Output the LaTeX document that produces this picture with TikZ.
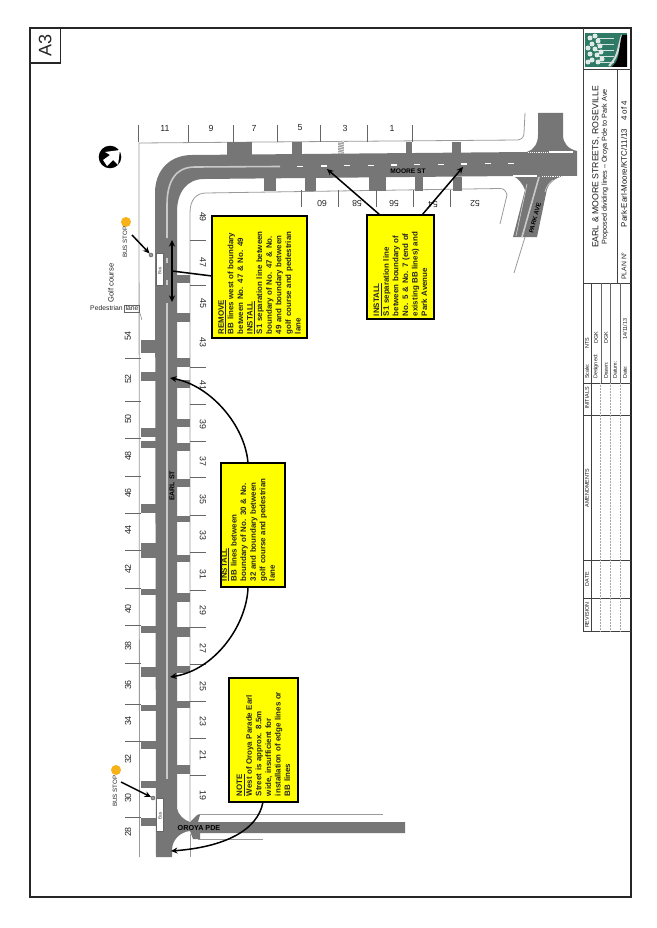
\documentclass[tikz,border=0pt]{standalone}
\usepackage{fontspec}
\setmainfont{Liberation Sans}
\usetikzlibrary{arrows.meta}
\definecolor{roadc}{HTML}{767676}
\definecolor{linec}{HTML}{9A9A9A}
\definecolor{markc}{HTML}{C9C9C9}
\definecolor{callout}{HTML}{FFFF00}
\definecolor{orangec}{HTML}{F7B21A}
\definecolor{logoc}{HTML}{2E7A66}
\tikzset{
  x=1pt,y=-1pt,
  frameline/.style={draw=black!85,line width=1.8pt},
  bound/.style={draw=linec,line width=0.8pt},
  tick/.style={draw=black!60,line width=0.7pt},
  road/.style={fill=roadc,draw=none},
  markline/.style={draw=markc,line width=1.6pt},
  dashmark/.style={draw=white,line width=1.2pt},
  numlabel/.style={font=\fontsize{8.8}{10}\selectfont,text=black!85,inner sep=0pt},
  ybox/.style={draw=black,line width=1.6pt,fill=callout,rotate=90,align=left,inner sep=0pt,
    font=\fontsize{7.9}{9.6}\selectfont\bfseries,text=black!85},
  pointer/.style={draw=black,line width=1.5pt,-{Stealth[length=6.5pt,width=6pt]}},
  plainpointer/.style={draw=black,line width=1.5pt},
  both/.style={draw=black,line width=1.5pt,{Stealth[length=6.5pt,width=6pt]}-{Stealth[length=6.5pt,width=6pt]}},
  roadname/.style={font=\fontsize{6.6}{8}\selectfont\bfseries,text=black,inner sep=0pt},
  note/.style={font=\fontsize{7.6}{9}\selectfont,text=black!85,inner sep=0pt},
  tb/.style={font=\fontsize{5.4}{6}\selectfont,text=black!90,inner sep=0pt,rotate=90},
  tbrule/.style={draw=black!75,line width=0.7pt},
  tbdot/.style={draw=black!35,line width=0.5pt,densely dotted},
}
\begin{document}
\begin{tikzpicture}
\useasboundingbox (0,0) rectangle (656,928);
\fill[white] (0,0) rectangle (656,928);

% boundaries
\draw[bound] (139.5,857) -- (139,143) -- (518,140) .. controls (522,139) and (524,137) .. (524,133) -- (525,113);
\draw[bound] (190,821) -- (190,213) .. controls (190,200) and (196,193) .. (206,193) -- (500,188.5)
   .. controls (504,188.5) and (506,191) .. (507,195) -- (500,224);
\draw[bound] (190,834) -- (190,857);
\draw[bound] (198,814) -- (383,814);
\draw[bound] (198,839) -- (263,839);
\draw[bound] (525,237) -- (514,273);

% main road
\path[road] (156,857) -- (155,193) .. controls (155,170) and (170,155) .. (192,155) -- (527,152)
  .. controls (534,150) and (538,143) .. (538,135) -- (538,113) -- (563,113) -- (563,135)
  .. controls (563,143) and (568,149) .. (577,151) -- (577,176) -- (563,176)
  .. controls (555,178) and (549,183) .. (547,189) -- (537,237) -- (513,237) -- (525,190)
  .. controls (523,184) and (518,178) .. (513,176) -- (204,179)
  .. controls (187,179) and (177,192) .. (177,212) -- (177,808)
  .. controls (178,815) and (184,820) .. (190,822) -- (197,815) -- (200,815) -- (198,822)
  -- (405,822) -- (405,833) -- (200,833) -- (200,839) -- (193,839) -- (190,831)
  .. controls (180,832) and (172,840) .. (172,850) -- (172,857) -- cycle;

% driveways, west side of Earl St
\foreach \a/\b in {340/352.7,372/381,428/437,441/448,504/513,543/558,589/595,626/633,667/677,705/711,741/749,781/788,818/826}
  \fill[roadc] (141,\a) rectangle (156,\b);
% driveways, east side of Earl St
\foreach \a/\b in {275/283,313/322,358/367,380/388,419/427,443/451,479/487,516/522,555/562,593/602,627/637,666/673,701/708,765/774}
  \fill[roadc] (176,\a) rectangle (190,\b);
% driveways, north side of Moore St
\foreach \a/\b in {227/252,292/302,406/412,452/461}
  \fill[roadc] (\a,142) rectangle (\b,155);
\fill[black!35] (338,141.5) rectangle (344,154);
\foreach \y in {143,145.5,148,150.5,153}
  \draw[white,line width=0.6pt] (338,\y) -- (344,\y-1.5);
% driveways, south side of Moore St
\foreach \a/\b in {264/276,305/316,369/386,415/423,453/462}
  \fill[roadc] (\a,177) rectangle (\b,191);

% road markings
\draw[markline] (167,238) -- (167,205) .. controls (167,182) and (175,167) .. (195,167) -- (280,166.5);
\draw[markline] (167,303) -- (167,779);
\draw[markline] (167,258) -- (167,263);
\draw[markline] (167,280) -- (167,285);
\foreach \x/\y in {300/166.3,324/166,347/165.6,371/165.3,394/165,417/164.7,441/164.4,464/164.1,488/163.9,511/163.6}
  \draw[dashmark] (\x-3,\y) -- (\x+3,\y);
\draw[white,line width=0.9pt,densely dotted] (528,152) -- (548,152);
\draw[white,line width=1.2pt] (549,152) -- (573,152);
\draw[white,line width=1.2pt] (513,176) -- (537,176);
\draw[white,line width=0.9pt,densely dotted] (542,176) -- (563,176);
\draw[markline] (539,177) -- (522,237);
\draw[draw=markc,line width=0.7pt] (527,184) -- (516,236);
\draw[draw=markc,line width=0.7pt] (553,180) .. controls (549,183) and (546,187) .. (545,192);

% bus bays
\node[draw=black!60,line width=0.5pt,fill=white,minimum width=7pt,minimum height=32pt,inner sep=0pt] (bayE) at (159.7,269) {};
\node[rotate=90,font=\fontsize{4.6}{5}\selectfont,text=black!75,inner sep=0pt] (bayEt) at (159.7,271) {Bus};
\node[draw=black!60,line width=0.5pt,fill=white,minimum width=7pt,minimum height=33pt,inner sep=0pt] (bayW) at (160,814.5) {};
\node[rotate=90,font=\fontsize{4.6}{5}\selectfont,text=black!75,inner sep=0pt] (bayWt) at (160,816) {Bus};

% top lot ticks
\foreach \x in {138,188,233,277,320,367,412}
  \draw[tick] (\x,125) -- (\x,142);
\foreach \n/\x in {11/165,9/211,7/254,5/300,3/345,1/392}
  \node[numlabel] (top\n) at (\x,128) {\n};
% Moore south ticks
\foreach \x in {301,338,376,413,450}
  \draw[tick] (\x,190) -- (\x,207);
\foreach \n/\x in {60/322,58/357,56/394,54/433,52/475}
  \node[numlabel,rotate=180] (south\n) at (\x,204) {\n};
% east ticks
\foreach \y in {240,285,367,404,441,477,515,552,590,627,664,701,738,775}
  \draw[tick] (190,\y) -- (206,\y);
\foreach \n/\y in {49/217,47/262,45/303,43/342,41/385,39/424,37/461,35/499,33/535,31/574,29/610,27/648,25/686,23/721,21/755,19/795}
  \node[numlabel,rotate=-90] (east\n) at (203,\y) {\n};
% west ticks
\foreach \y in {358,401,438,476,513,550,588,625,663,704,741,817}
  \draw[tick] (125,\y) -- (141,\y);
\foreach \n/\y in {54/336,52/379,50/419,48/456,46/493,44/530,42/569,40/609,38/646,36/685,34/721,32/759,30/798,28/832}
  \node[numlabel,rotate=90] (west\n) at (128,\y) {\n};

% road names
\node[roadname] (moore) at (408,171) {MOORE ST};
\node[roadname,rotate=90,font=\fontsize{7}{8}\selectfont\bfseries] (earl) at (172,486) {EARL ST};
\node[roadname,font=\fontsize{7.2}{8}\selectfont\bfseries] (oroya) at (199,828) {OROYA PDE};
\node[roadname,rotate=75,font=\fontsize{6.2}{7}\selectfont\bfseries] (park) at (535,218) {PARK AVE};

% compass
\fill[black] (110,157) circle (11.3);
\fill[white] (120,150) -- (105,152) -- (110,155) -- (103,160) -- (107,166) -- (113,160) -- (118,165) -- cycle;

% annotations on the golf course side
\node[note,rotate=90] (golf) at (111,283) {Golf course};
\node[note,font=\fontsize{6.8}{8}\selectfont] (ped) at (106.5,308.5) {Pedestrian};
\node[note,font=\fontsize{6.8}{8}\selectfont,draw=black!60,line width=0.4pt,inner sep=1pt] (lane) at (132,308.5) {lane};
\coordinate (laneEnd) at (142,320);
\draw[black!60,line width=0.4pt] (lane.south east) -- (laneEnd);

% bus stops
\fill[orangec] (126,222) circle (5);
\node[note,rotate=90,font=\fontsize{6.2}{8}\selectfont] (stopE) at (125,242) {BUS STOP};
\node[draw=black!70,fill=black!40,circle,minimum size=4pt,inner sep=0pt,line width=0.4pt] (signE) at (151,255) {};
\coordinate (stopEfrom) at (132,235);
\draw[pointer] (stopEfrom) -- (signE);
\fill[orangec] (116,770) circle (5);
\node[note,rotate=90,font=\fontsize{6.2}{8}\selectfont] (stopW) at (115,791) {BUS STOP};
\node[draw=black!70,fill=black!40,circle,minimum size=4pt,inner sep=0pt,line width=0.4pt] (signW) at (153,798) {};
\coordinate (stopWfrom) at (121,782);
\draw[pointer] (stopWfrom) -- (signW);

% call-out boxes
\node[ybox,minimum width=122pt,minimum height=95pt,text width=114pt] (boxA) at (259.5,277) {\underline{REMOVE}\\BB lines west of boundary\\between No. 47 \& No. 49\\\underline{INSTALL}\\S1 separation line between\\boundary of No. 47 \& No.\\49 and boundary between\\golf course and pedestrian\\lane};
\node[ybox,minimum width=124pt,minimum height=64pt,text width=112pt] (boxB) at (253,525) {\underline{INSTALL}\\BB lines between\\boundary of No. 30 \& No.\\32 and boundary between\\golf course and pedestrian\\lane\\~};
\node[ybox,minimum width=104pt,minimum height=67pt,text width=98pt] (boxC) at (400.5,267) {\underline{INSTALL}\\S1 separation line\\between boundary of\\No. 5 \& No. 7 (end of\\existing BB lines) and\\Park Avenue};
\node[ybox,minimum width=124pt,minimum height=69pt,text width=112pt] (boxD) at (263.5,740) {\underline{NOTE}\\West of Oroya Parade Earl\\Street is approx. 8.5m\\wide, insufficient for\\installation of edge lines or\\BB lines};

% connectors
\coordinate (aFrom) at (212,276);
\coordinate (aTo) at (172,271);
\coordinate (aUp) at (172,240);
\coordinate (aDown) at (172,302);
\draw[plainpointer] (aFrom) -- (aTo);
\draw[both] (aUp) -- (aDown);
\coordinate (bFromN) at (248,463);
\coordinate (bToN) at (170,378);
\draw[pointer] (bFromN) .. controls (245,425) and (210,385) .. (bToN);
\coordinate (bFromS) at (248,587);
\coordinate (bToS) at (170,677);
\draw[pointer] (bFromS) .. controls (247,625) and (215,670) .. (bToS);
\coordinate (cFromW) at (380,215);
\coordinate (cToW) at (327,169);
\draw[pointer] (cFromW) -- (cToW);
\coordinate (cFromE) at (422,215);
\coordinate (cToE) at (463,167);
\draw[pointer] (cFromE) -- (cToE);
\coordinate (dFrom) at (263,802);
\coordinate (dTo) at (171,851);
\draw[pointer] (dFrom) .. controls (258,830) and (225,847) .. (dTo);

% frame
\draw[frameline] (30,28) rectangle (631,897);
\node[draw=black!85,line width=1.2pt,fill=white,minimum width=30.5pt,minimum height=35pt,inner sep=0pt] (sheetbox) at (45.3,45.5) {};
\node[rotate=90,font=\fontsize{18}{20}\selectfont,text=black!85,inner sep=0pt] (sheet) at (45.3,45.5) {A3};

% title block
\draw[tbrule,line width=1pt] (583,28) -- (583,631) -- (631,631);
\draw[tbrule] (583,69) -- (631,69);
\draw[tbrule] (617,69) -- (617,283);
\draw[tbrule] (583,283) -- (631,283);
\draw[tbrule] (591,283) -- (591,631);
\foreach \y in {383,415,560,598}
  \draw[tbrule] (583,\y) -- (631,\y);
\foreach \x in {601,610,620}
  \draw[tbrule,line width=0.5pt,black!60] (\x,283) -- (\x,383);
\foreach \x in {600.5,610,620}
  \draw[tbdot] (\x,383) -- (\x,631);

% logo
\fill[logoc] (585,33) rectangle (627,67);
\draw[black!15,line width=2pt] (622,35) .. controls (618,46) and (619,56) .. (609,66);
\fill[black] (627,35) -- (622,35) .. controls (619,45) and (620,55) .. (616,62) -- (612,67) -- (627,67) -- cycle;
\foreach \y in {38,44,50,56,62}
  \draw[white!80!logoc,line width=0.7pt] (597,\y) -- (614,\y);
\foreach \x/\y in {590/38,595/36,598/41,592/44,588/48,595/49,600/46,590/54,597/55,601/52,592/60,598/62,588/62,602/59}
  \fill[white!85!logoc] (\x,\y) circle (2.5);

\node[rotate=90,font=\fontsize{8.7}{10}\selectfont,text=black!90,inner sep=0pt] (title) at (596,167) {EARL \& MOORE STREETS, ROSEVILLE};
\node[rotate=90,font=\fontsize{7.2}{8}\selectfont,text=black!90,inner sep=0pt] (subtitle) at (605,167) {Proposed dividing lines – Oroya Pde to Park Ave};
\node[rotate=90,font=\fontsize{6.8}{8}\selectfont,text=black!85,inner sep=0pt] (planlab) at (624,266) {PLAN N°};
\node[rotate=90,font=\fontsize{8}{8}\selectfont,text=black!90,inner sep=0pt] (planno) at (624,164) {Park-Earl-Moore/KTC/11/13\quad 4 of 4};

\node[tb] (h1) at (587,615) {REVISION};
\node[tb] (h2) at (587,579) {DATE};
\node[tb] (h3) at (587,488) {AMENDMENTS};
\node[tb] (h4) at (587,398) {INITIALS};
\node[tb,anchor=west] (s1) at (587,379) {Scale:};
\node[tb,anchor=west] (s2) at (596,379) {Designed:};
\node[tb,anchor=west] (s3) at (606,379) {Drawn:};
\node[tb,anchor=west] (s4) at (615,379) {Datum:};
\node[tb,anchor=west] (s5) at (625,379) {Date:};
\node[tb] (v1) at (587,343) {NTS};
\node[tb] (v2) at (596,338) {DGK};
\node[tb] (v3) at (606,338) {DGK};
\node[tb] (v5) at (625,329) {14/11/13};
\end{tikzpicture}
\end{document}
